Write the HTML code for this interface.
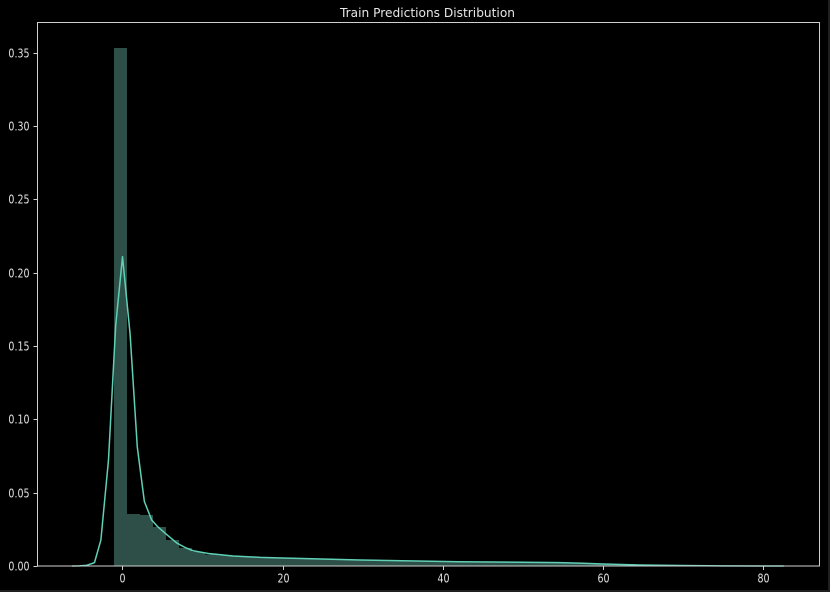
<!DOCTYPE html>
<html lang="en">
<head>
<meta charset="utf-8">
<title>Train Predictions Distribution</title>
<style>
html,body{margin:0;padding:0;background:#000;width:830px;height:592px;overflow:hidden}
svg{display:block}
text{font-family:"DejaVu Sans","Liberation Sans",sans-serif}
</style>
</head>
<body>
<svg id="chart" width="830" height="592" viewBox="0 0 830 592" xmlns="http://www.w3.org/2000/svg">
  <rect x="0" y="0" width="830" height="592" fill="#1f1f1f"/>
  <rect x="0" y="0" width="828" height="590" fill="#000"/>
  <g id="bars"></g>
  <path id="kde" fill="none" stroke="#5fd0b6" stroke-width="1.5" stroke-linejoin="round"/>
  <g id="axes"></g>
  <rect x="37.5" y="22.5" width="782" height="543.5" fill="none" stroke="#d0d0d0" stroke-width="1"/>
  <text x="340" y="17" textLength="175" lengthAdjust="spacingAndGlyphs" font-size="12" fill="#e6e6e6">Train Predictions Distribution</text>
</svg>
<script>
const xTicks = [0, 20, 40, 60, 80];
const yTicks = [0, 0.05, 0.10, 0.15, 0.20, 0.25, 0.30, 0.35];
const yTickLabels = ['0.00', '0.05', '0.10', '0.15', '0.20', '0.25', '0.30', '0.35'];

const binStart = -2.69;
const binWidth = 1.624;
const binHeights = [0.0005, 0.3534, 0.0355, 0.0347, 0.0266, 0.0177, 0.0123, 0.0095, 0.0078, 0.0072,
  0.0067, 0.0062, 0.0059, 0.0057, 0.0055, 0.0053, 0.005, 0.0048, 0.0046, 0.0043,
  0.0041, 0.0039, 0.0037, 0.0035, 0.0034, 0.0032, 0.0031, 0.003, 0.0029, 0.0028,
  0.0027, 0.0026, 0.0026, 0.0025, 0.0025, 0.0024, 0.0021, 0.0018, 0.0015, 0.0012,
  0.0009, 0.0007, 0.0005, 0.0004, 0.0003, 0.0002, 0.0001, 0.0001, 0.00005, 0.00003];

const kdeX = [-6.3, -5.4, -4.5, -3.5, -2.7, -1.75, -0.85, 0, 0.95, 1.85, 2.73, 3.64, 4.4, 5.3, 6.77, 7.8, 8.8, 10.9, 13.8, 17.2, 20, 29.7, 42, 50, 54.6, 57.5, 60, 64.6, 69.7, 74.7, 82.6];
const kdeY = [0, 0.0001, 0.0004, 0.0023, 0.0177, 0.0723, 0.164, 0.211, 0.158, 0.081, 0.044, 0.0314, 0.0268, 0.0225, 0.0157, 0.0127, 0.0104, 0.0084, 0.0068, 0.0059, 0.0055, 0.0041, 0.0029, 0.0026, 0.0023, 0.0019, 0.0014, 0.0007, 0.0003, 0.0001, 0];

const xDomain = [-10.617, 87.06];
const yDomain = [0, 0.3707];
const plotLeft = 37.5, plotRight = 819.5, plotTop = 22.5, plotBottom = 566;
const NS = 'http://www.w3.org/2000/svg';

function xScale(v) {
  return plotLeft + (v - xDomain[0]) / (xDomain[1] - xDomain[0]) * (plotRight - plotLeft);
}
function yScale(v) {
  return plotBottom - (v - yDomain[0]) / (yDomain[1] - yDomain[0]) * (plotBottom - plotTop);
}

const barsGroup = document.getElementById('bars');
binHeights.forEach(function (h, i) {
  const x0 = xScale(binStart + i * binWidth);
  const x1 = xScale(binStart + (i + 1) * binWidth);
  const r = document.createElementNS(NS, 'rect');
  
  
  r.setAttribute('x', x0);
  r.setAttribute('y', yScale(h));
  r.setAttribute('width', x1 - x0);
  r.setAttribute('height', plotBottom - yScale(h));
  r.setAttribute('fill', '#2d4f48');
  r.setAttribute('shape-rendering', 'crispEdges');
  barsGroup.appendChild(r);
});

document.getElementById('kde').setAttribute('d', kdeX.map(function (x, i) {
  return (i ? 'L' : 'M') + xScale(x).toFixed(2) + ' ' + yScale(kdeY[i]).toFixed(2);
}).join(' '));

const axesGroup = document.getElementById('axes');
xTicks.forEach(function (t) {
  const px = Math.round(xScale(t)) + 0.5;
  const tick = document.createElementNS(NS, 'line');
  
  
  tick.setAttribute('x1', px);
  tick.setAttribute('x2', px);
  tick.setAttribute('y1', plotBottom);
  tick.setAttribute('y2', plotBottom + 4);
  tick.setAttribute('stroke', '#d0d0d0');
  axesGroup.appendChild(tick);
  const label = document.createElementNS(NS, 'text');
  
  
  label.setAttribute('transform', 'translate(' + px + ' ' + (plotBottom + 16.5) + ') scale(0.79 1)');
  label.setAttribute('text-anchor', 'middle');
  label.setAttribute('font-size', '12');
  label.setAttribute('fill', '#e0e0e0');
  label.textContent = String(t);
  axesGroup.appendChild(label);
});
yTicks.forEach(function (t, i) {
  const py = Math.round(yScale(t)) + 0.5;
  const tick = document.createElementNS(NS, 'line');
  
  
  tick.setAttribute('x1', plotLeft - 4);
  tick.setAttribute('x2', plotLeft);
  tick.setAttribute('y1', py);
  tick.setAttribute('y2', py);
  tick.setAttribute('stroke', '#d0d0d0');
  axesGroup.appendChild(tick);
  const label = document.createElementNS(NS, 'text');
  
  
  label.setAttribute('transform', 'translate(' + (plotLeft - 8) + ' ' + (py + 4) + ') scale(0.79 1)');
  label.setAttribute('text-anchor', 'end');
  label.setAttribute('font-size', '12');
  label.setAttribute('fill', '#e0e0e0');
  label.textContent = yTickLabels[i];
  axesGroup.appendChild(label);
});
</script>
</body>
</html>
